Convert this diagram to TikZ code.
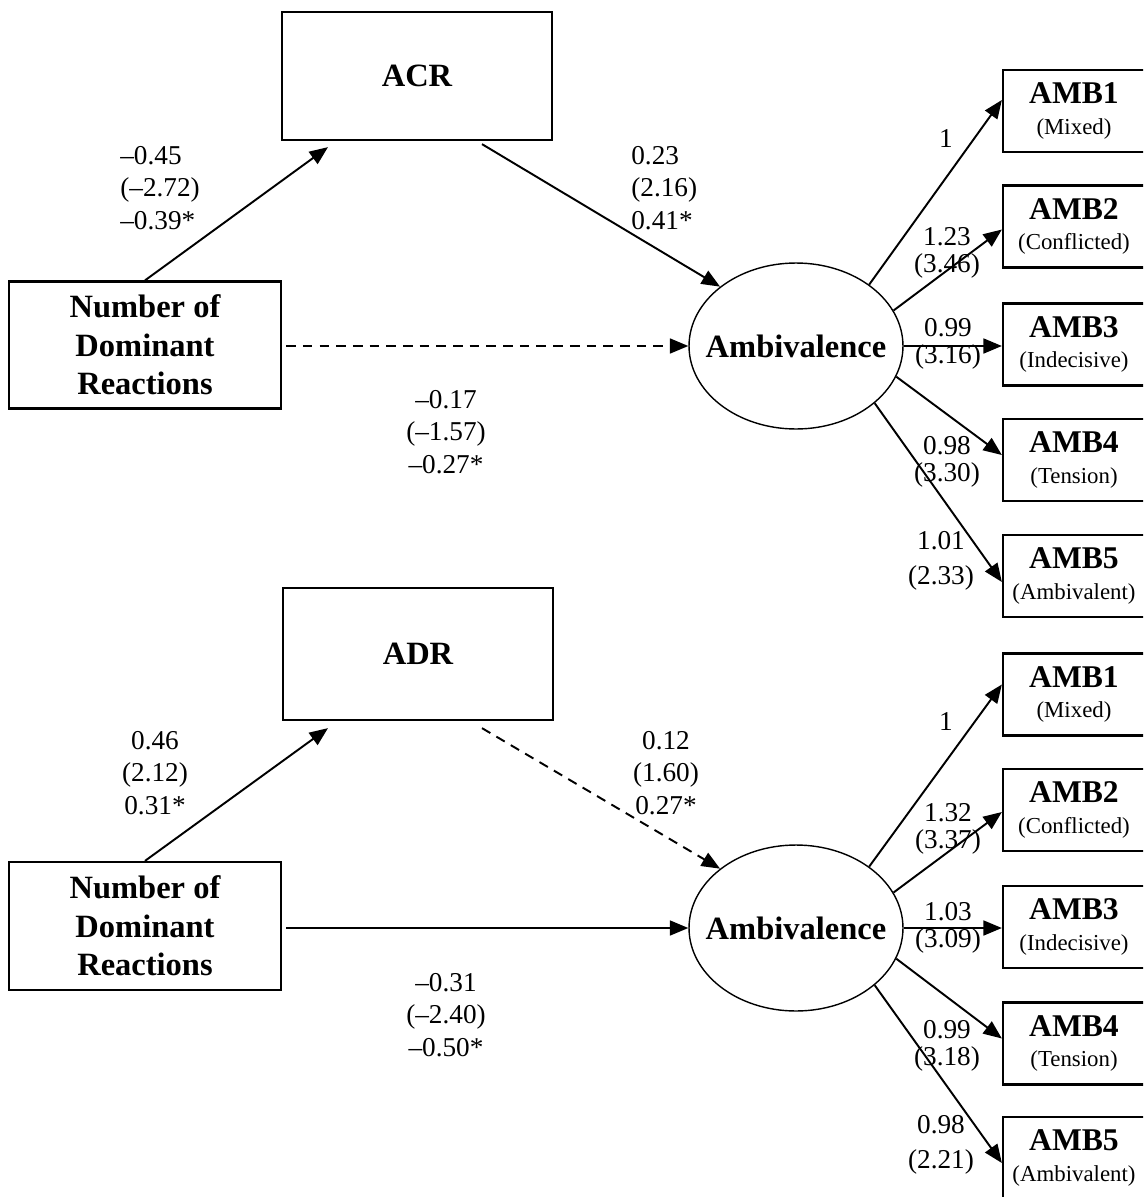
\documentclass[tikz,border=0pt]{standalone}
\usepackage{fontspec}
\setmainfont{Liberation Serif}
\usetikzlibrary{arrows.meta,shapes.geometric}
\tikzset{
  box/.style={draw, line width=1.3pt, rectangle, inner sep=0pt},
  bigbox/.style={box, minimum width=5.4cm, minimum height=2.56cm, font=\fontsize{18.5}{22}\selectfont\bfseries, align=center},
  ambbox/.style={box, minimum width=2.84cm, minimum height=1.64cm, align=center, font=\fontsize{18}{17.5}\selectfont},
  latent/.style={draw, line width=0.8pt, ellipse, minimum width=4.28cm, minimum height=3.32cm, inner sep=0pt},
  elabel/.style={font=\fontsize{18.5}{22}\selectfont\bfseries},
  coef/.style={font=\fontsize{15.5}{18.7}\selectfont, align=center, inner sep=0pt},
  coefl/.style={font=\fontsize{15.5}{18.7}\selectfont, align=left, inner sep=0pt},
  load/.style={font=\fontsize{15.5}{15.5}\selectfont, align=center, inner sep=0pt},
  loadw/.style={font=\fontsize{15.5}{20}\selectfont, align=center, inner sep=0pt},
  arr/.style={line width=1.1pt, -{Triangle[length=10.5pt,width=8.5pt]}},
  darr/.style={arr, dash pattern=on 5.5pt off 4pt},
}
\newcommand{\amb}[2]{\textbf{#1}\\{\fontsize{13}{17.5}\selectfont #2}}
\begin{document}
\begin{tikzpicture}[x=0.02cm, y=-0.02cm]
\useasboundingbox (0,0) rectangle (1143,1197);
\clip (0,0) rectangle (1143,1197);

% ---------------- Top panel ----------------
\node[bigbox] (ACR) at (417,76) {ACR};
\node[bigbox, minimum width=5.44cm, minimum height=2.54cm] (NDR1) at (145,345) {Number of\\Dominant\\Reactions};
\node[latent] (E1) at (796,346) {};
\node[elabel] (E1t) at (E1.center) {Ambivalence};

\node[ambbox] (A11) at (1074,111) {\amb{AMB1}{(Mixed)}};
\node[ambbox] (A12) at (1074,226.5) {\amb{AMB2}{(Conflicted)}};
\node[ambbox] (A13) at (1074,344.5) {\amb{AMB3}{(Indecisive)}};
\node[ambbox] (A14) at (1074,460) {\amb{AMB4}{(Tension)}};
\node[ambbox] (A15) at (1074,576) {\amb{AMB5}{(Ambivalent)}};

\draw[arr] (NDR1.north) -- ([shift={(-89,6)}]ACR.south);
\draw[arr] ([shift={(65,3)}]ACR.south) -- (E1.142);
\draw[darr] ([shift={(4,1)}]NDR1.east) -- (E1.180);

\draw[arr] (E1.40) -- ([shift={(0,-11)}]A11.west);
\draw[arr] (E1.20) -- ([shift={(0,3)}]A12.west);
\draw[arr] (E1.0) -- ([shift={(0,1.5)}]A13.west);
\draw[arr] (E1.-17) -- ([shift={(0,-5)}]A14.west);
\draw[arr] (E1.-36.5) -- ([shift={(0,6)}]A15.west);

\node[coefl, anchor=west] (c11) at (120,188) {–0.45\\(–2.72)\\–0.39*};
\node[coefl, anchor=west] (c12) at (631,188) {0.23\\(2.16)\\0.41*};
\node[coef] (c13) at (446,432) {–0.17\\(–1.57)\\–0.27*};

\node[load] (l11) at (946,139) {1};
\node[load] (l12) at (947,253) {1.23\\(3.46)};
\node[load] (l13) at (948,344) {0.99\\(3.16)};
\node[load] (l14) at (947,462) {0.98\\(3.30)};
\node[loadw] (l15) at (941,561) {1.01\\(2.33)};

% ---------------- Bottom panel ----------------
\node[bigbox, minimum height=2.64cm] (ADR) at (418,654) {ADR};
\node[bigbox, minimum width=5.44cm] (NDR2) at (145,926) {Number of\\Dominant\\Reactions};
\node[latent] (E2) at (796,928) {};
\node[elabel] (E2t) at (E2.center) {Ambivalence};

\node[ambbox] (A21) at (1074,694.5) {\amb{AMB1}{(Mixed)}};
\node[ambbox] (A22) at (1074,810) {\amb{AMB2}{(Conflicted)}};
\node[ambbox] (A23) at (1074,927) {\amb{AMB3}{(Indecisive)}};
\node[ambbox] (A24) at (1074,1043.5) {\amb{AMB4}{(Tension)}};
\node[ambbox] (A25) at (1074,1158) {\amb{AMB5}{(Ambivalent)}};

\draw[arr] (NDR2.north) -- ([shift={(-90,7)}]ADR.south);
\draw[darr] ([shift={(64,7)}]ADR.south) -- (E2.142);
\draw[arr] ([shift={(4,2)}]NDR2.east) -- (E2.180);

\draw[arr] (E2.40) -- ([shift={(0,-10)}]A21.west);
\draw[arr] (E2.20) -- ([shift={(0,2)}]A22.west);
\draw[arr] (E2.0) -- ([shift={(0,1)}]A23.west);
\draw[arr] (E2.-17) -- ([shift={(0,-5)}]A24.west);
\draw[arr] (E2.-36.5) -- ([shift={(0,5)}]A25.west);

\node[coef] (c21) at (155,773) {0.46\\(2.12)\\0.31*};
\node[coef] (c22) at (666,773) {0.12\\(1.60)\\0.27*};
\node[coef] (c23) at (446,1015) {–0.31\\(–2.40)\\–0.50*};

\node[load] (l21) at (946,722) {1};
\node[load] (l22) at (948,829) {1.32\\(3.37)};
\node[load] (l23) at (948,928) {1.03\\(3.09)};
\node[load] (l24) at (947,1046) {0.99\\(3.18)};
\node[loadw] (l25) at (941,1145) {0.98\\(2.21)};
\end{tikzpicture}
\end{document}
